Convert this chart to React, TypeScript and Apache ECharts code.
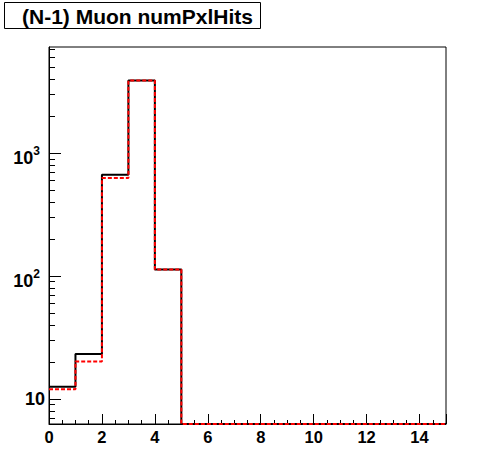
import React, { useEffect, useRef } from "react";
import * as echarts from "echarts";

// numPxlHits bins: [0,1), [1,2), ... [14,15)
const binEdges = [0, 1, 2, 3, 4, 5, 6, 7, 8, 9, 10, 11, 12, 13, 14, 15];
const blackValues = [12.6, 23.2, 667, 3900, 113, 0, 0, 0, 0, 0, 0, 0, 0, 0, 0];
const redValues = [12.0, 20.2, 627, 3900, 113, 0, 0, 0, 0, 0, 0, 0, 0, 0, 0];
const yMajorExponents = [1, 2, 3];
const yMinorValues = [7, 8, 9, 20, 30, 40, 50, 60, 70, 80, 90, 200, 300, 400, 500, 600, 700, 800, 900, 2000, 3000, 4000, 5000, 6000, 7000];
const yRange = [6.26, 7310];
const titleText = "(N-1) Muon numPxlHits";

const FONT = "'Liberation Sans', Arial, Helvetica, sans-serif";

const logMin = Math.log10(yRange[0]);
const logMax = Math.log10(yRange[1]);

function toLog(v: number) {
  return v > 0 ? Math.log10(v) : logMin;
}

function histData(vals: number[]) {
  const pts: number[][] = vals.map((v, i) => [binEdges[i], toLog(v)]);
  pts.push([binEdges[binEdges.length - 1], toLog(vals[vals.length - 1])]);
  return pts;
}

export default function App() {
  const ref = useRef<HTMLDivElement>(null);
  useEffect(() => {
    document.body.style.margin = "0";
    if (!ref.current) return;
    const chart = echarts.init(ref.current, null, { renderer: "svg" });
    chart.setOption({
      animation: false,
      backgroundColor: "#fff",
      grid: {
        left: 49,
        top: 47,
        right: 50,
        bottom: 48,
        show: true,
        borderColor: "#000",
        borderWidth: 1,
        backgroundColor: "transparent",
      },
      xAxis: {
        type: "value",
        min: 0,
        max: 15,
        interval: 2,
        axisLine: { show: true, onZero: false, lineStyle: { color: "#000", width: 1 } },
        axisTick: { show: true, inside: true, length: 10, lineStyle: { color: "#000" } },
        minorTick: { show: true, splitNumber: 4, length: 4, lineStyle: { color: "#000" } },
        splitLine: { show: false },
        axisLabel: {
          show: true,
          margin: 4,
          color: "#000",
          fontSize: 16.5,
          fontWeight: "bold",
          fontFamily: FONT,
          showMaxLabel: false,
        },
      },
      yAxis: [
        {
          type: "value",
          min: logMin,
          max: logMax,
          axisLine: { show: true, onZero: false, lineStyle: { color: "#000", width: 1 } },
          axisTick: {
            show: true,
            inside: true,
            length: 12,
            customValues: yMajorExponents,
            lineStyle: { color: "#000" },
          },
          splitLine: { show: false },
          axisLabel: {
            show: true,
            margin: 4,
            customValues: yMajorExponents,
            color: "#000",
            fontFamily: FONT,
            formatter: (v: number) => {
              const e = Math.round(v);
              return e === 1 ? "{p|10}" : `{b|10}{s|${e}}`;
            },
            rich: {
              p: { fontSize: 18, fontWeight: "bold", fontFamily: FONT, color: "#000", lineHeight: 18 },
              b: {
                fontSize: 18,
                fontWeight: "bold",
                fontFamily: FONT,
                color: "#000",
                lineHeight: 18,
                padding: [9.7, 0, 0, 0],
              },
              s: {
                fontSize: 12,
                fontWeight: "bold",
                fontFamily: FONT,
                color: "#000",
                lineHeight: 12,
                padding: [5.85, 5, 9.85, 0],
              },
            },
          },
        },
        {
          type: "value",
          min: logMin,
          max: logMax,
          position: "left",
          axisLine: { show: false },
          axisTick: {
            show: true,
            inside: true,
            length: 6,
            customValues: yMinorValues.map((v) => Math.log10(v)),
            lineStyle: { color: "#000" },
          },
          axisLabel: { show: false },
          splitLine: { show: false },
        },
      ],
      graphic: [
        {
          type: "rect",
          shape: { x: 4.5, y: 2.5, width: 256, height: 26 },
          style: { fill: "#fff", stroke: "#000", lineWidth: 1 },
          z: 100,
        },
        {
          type: "text",
          x: 22,
          y: 16.5,
          style: {
            text: titleText,
            fill: "#000",
            font: `bold 21px ${FONT}`,
            verticalAlign: "middle",
            align: "left",
          },
          z: 101,
        },
      ],
      series: [
        {
          type: "line",
          step: "end",
          data: histData(blackValues),
          showSymbol: false,
          symbol: "none",
          lineStyle: { color: "#000", width: 2 },
          z: 2,
        },
        {
          type: "line",
          step: "end",
          data: histData(redValues),
          showSymbol: false,
          symbol: "none",
          lineStyle: { color: "#ff0000", width: 2, type: [4, 2] },
          z: 3,
        },
      ],
    });
    return () => chart.dispose();
  }, []);
  return <div ref={ref} style={{ width: 496, height: 472 }} />;
}
